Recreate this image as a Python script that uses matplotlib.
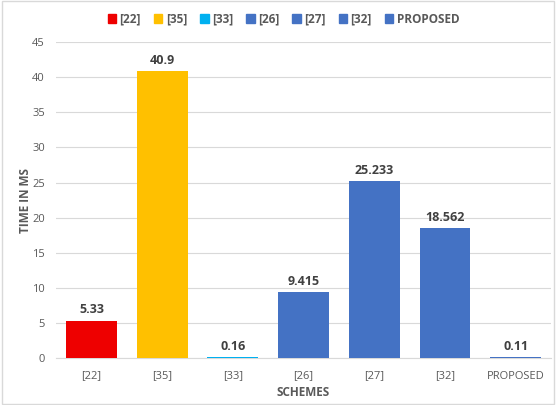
import matplotlib.pyplot as plt
from matplotlib.patches import Patch

schemes = ["[22]", "[35]", "[33]", "[26]", "[27]", "[32]", "PROPOSED"]
times = [5.33, 40.9, 0.16, 9.415, 25.233, 18.562, 0.11]
labels = ["5.33", "40.9", "0.16", "9.415", "25.233", "18.562", "0.11"]
colors = ["#EE0000", "#FFC000", "#00B0F0", "#4472C4", "#4472C4", "#4472C4", "#4472C4"]

plt.rcParams['font.family'] = ['Open Sans', 'DejaVu Sans']
txt = "#595959"

fig = plt.figure(figsize=(5.56, 4.05), dpi=100)
ax = fig.add_axes([0.101, 0.116, 0.89, 0.78])

x = range(len(schemes))
bars = ax.bar(x, times, width=0.72, color=colors, zorder=3)
for b, lab in zip(bars, labels):
    ax.text(b.get_x() + b.get_width() / 2, b.get_height() + 0.6, lab,
            ha="center", va="bottom", fontsize=9, fontweight="bold", color="#404040")

ax.set_xlim(-0.5, len(schemes) - 0.5)
ax.set_ylim(0, 45)
ax.set_yticks(range(0, 46, 5))
ax.set_xticks(list(x))
ax.set_xticklabels(schemes)
ax.tick_params(axis="both", length=0, labelsize=8, colors=txt)
ax.tick_params(axis="x", pad=9)
ax.tick_params(axis="y", pad=8)
ax.grid(axis="y", color="#D9D9D9", linewidth=0.8, zorder=0)
for s in ["top", "right", "left"]:
    ax.spines[s].set_visible(False)
ax.spines["bottom"].set_color("#D9D9D9")

ax.set_xlabel("SCHEMES", fontsize=8.5, fontweight="bold", color=txt, labelpad=3)
ax.set_ylabel("TIME IN MS", fontsize=8.5, fontweight="bold", color=txt, labelpad=0)

handles = [Patch(color=c, label=s) for c, s in zip(colors, schemes)]
fig.legend(handles=handles, loc="upper center", bbox_to_anchor=(0.51, 0.995), ncol=7,
           frameon=False, handlelength=0.7, handleheight=0.7,
           handletextpad=0.3, columnspacing=1.1, labelcolor=txt,
           prop={"weight": "bold", "size": 8.5})

fig.patches.append(plt.Rectangle((0.003, 0.003), 0.994, 0.994, transform=fig.transFigure,
                                 fill=False, edgecolor="#D9D9D9", linewidth=1))

fig.savefig("out.png", dpi=100)
